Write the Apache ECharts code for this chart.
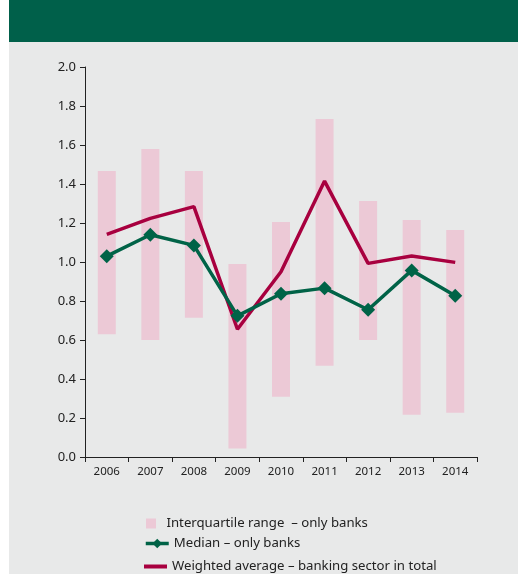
<!DOCTYPE html>
<html>
<head>
<meta charset="utf-8">
<script src="https://cdn.jsdelivr.net/npm/echarts@6/dist/echarts.min.js"></script>
<style>
html,body{margin:0;padding:0;background:#fff;}
#bg{position:absolute;left:9px;top:0;width:509px;height:574px;background:#e8e9e9;}
#hd{position:absolute;left:9px;top:0;width:509px;height:42px;background:#00604a;}
#chart{position:absolute;left:0;top:0;width:518px;height:574px;}
</style>
</head>
<body>
<div id="bg"></div><div id="hd"></div>
<div id="chart"></div>
<script>
const categories = ['2006','2007','2008','2009','2010','2011','2012','2013','2014'];
const iqrLow  = [0.63, 0.60, 0.714, 0.043, 0.309, 0.468, 0.60, 0.217, 0.227];
const iqrHigh = [1.467, 1.579, 1.467, 0.99, 1.205, 1.733, 1.313, 1.215, 1.164];
const median   = [1.03, 1.14, 1.085, 0.724, 0.837, 0.866, 0.755, 0.957, 0.827];
const weighted = [1.142, 1.224, 1.284, 0.655, 0.95, 1.415, 0.993, 1.031, 0.998];
const yTicks = [0, 0.2, 0.4, 0.6, 0.8, 1.0, 1.2, 1.4, 1.6, 1.8, 2.0];

const nameIQR = 'Interquartile range  \u2013 only banks';
const nameMed = 'Median \u2013 only banks';
const nameW = 'Weighted average \u2013 banking sector in total';

const GREEN = '#006347', RED = '#a8003f', PINK = '#ecc9d6';
const font = 'Noto Sans';

const chart = echarts.init(document.getElementById('chart'), null, {renderer: 'canvas'});
chart.setOption({
  backgroundColor: 'transparent',
  animation: false,
  textStyle: {fontFamily: font},
  grid: {left: 85, right: 41, top: 67, bottom: 117, containLabel: false},
  legend: [
    {data: [nameIQR], orient: 'vertical', left: 141, top: 512, itemWidth: 21, itemHeight: 10,
     icon: 'path://M0,0h10v10h-10z', textStyle: {fontFamily: font, fontSize: 13.2, color: '#222'}},
    {data: [nameMed], orient: 'vertical', left: 139, top: 532, itemWidth: 23, itemHeight: 12,
     lineStyle: {width: 3.5}, textStyle: {fontFamily: font, fontSize: 13.2, color: '#222'}},
    {data: [nameW], orient: 'vertical', left: 139, top: 555, itemWidth: 23, itemHeight: 4,
     icon: 'rect', textStyle: {fontFamily: font, fontSize: 13.2, color: '#222'}}
  ],
  xAxis: {
    type: 'category', data: categories, boundaryGap: true,
    axisLine: {lineStyle: {color: '#222', width: 1}},
    axisTick: {show: true, length: 5, lineStyle: {color: '#222'}},
    axisLabel: {color: '#222', fontSize: 11.5, margin: 9, fontFamily: font},
    splitLine: {show: false}
  },
  yAxis: {
    type: 'value', min: 0, max: 2, interval: 0.2,
    axisLine: {show: true, lineStyle: {color: '#222', width: 1}},
    axisTick: {show: true, length: 5, lineStyle: {color: '#222'}},
    axisLabel: {color: '#222', fontSize: 13, margin: 9, fontFamily: font,
      formatter: v => v.toFixed(1)},
    splitLine: {show: false}
  },
  series: [
    {name: 'base', type: 'bar', stack: 'iqr', data: iqrLow, barWidth: 18,
     itemStyle: {color: 'transparent'}, silent: true},
    {name: nameIQR, type: 'bar', stack: 'iqr', data: iqrHigh.map((h, i) => +(h - iqrLow[i]).toFixed(3)),
     barWidth: 18, itemStyle: {color: PINK}},
    {name: nameW, type: 'line', data: weighted, symbol: 'none', z: 3,
     lineStyle: {color: RED, width: 3.5}, itemStyle: {color: RED}},
    {name: nameMed, type: 'line', data: median, symbol: 'diamond', symbolSize: 14, z: 4,
     lineStyle: {color: GREEN, width: 3.5}, itemStyle: {color: GREEN}}
  ]
});
</script>
</body>
</html>
